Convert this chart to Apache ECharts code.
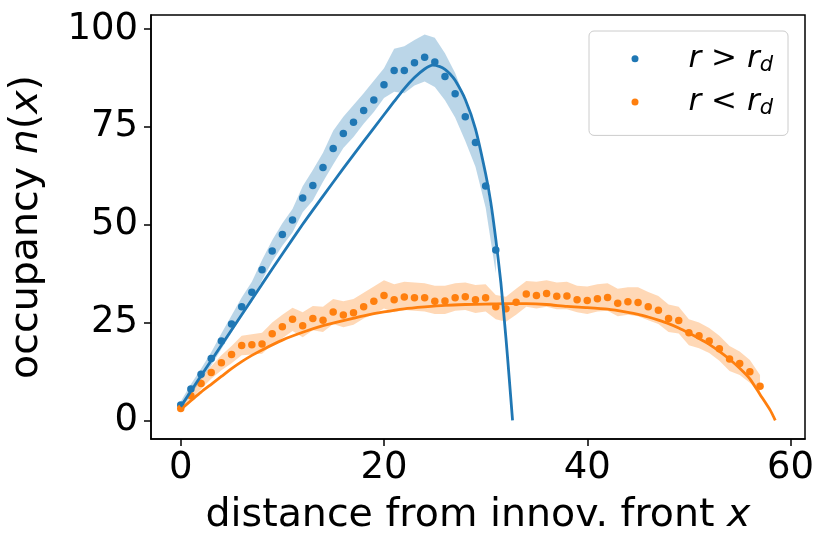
<!DOCTYPE html>
<html><head><meta charset="utf-8">
<script src="https://cdn.jsdelivr.net/npm/echarts@6/dist/echarts.min.js"></script>
<style>html,body{margin:0;padding:0;background:#fff}#c{width:830px;height:551px}</style>
</head><body><div id="c"></div>
<script>
// ---- tick labels ----
const xTicks = [0, 20, 40, 60];
const yTicks = [0, 25, 50, 75, 100];

// ---- r > r_d (blue) : simulation points ----
const xB = [0,1,2,3,4,5,6,7,8,9,10,11,12,13,14,15,16,17,18,19,20,21,22,23,24,25,26,27,28,29,30,31];
const yB = [3.9,8.0,11.8,15.8,20.3,24.6,29.0,32.7,38.5,43.3,47.5,51.2,56.8,60.0,64.6,69.5,73.3,76.2,79.2,81.9,85.8,89.4,89.4,91.4,92.8,91.6,87.9,83.5,77.6,71.0,59.9,43.5];
const hiB = [4.8,9.2,13.2,17.4,22.2,26.8,31.4,35.4,41.0,46.0,50.4,54.0,59.8,64.0,68.4,74.0,77.6,80.6,83.6,86.8,90.0,95.0,95.6,97.2,98.6,97.8,93.8,88.8,82.0,74.0,62.0,45.5];
const loB = [2.8,6.6,10.2,14.0,18.2,22.4,26.6,30.2,35.8,40.6,44.6,48.0,53.2,56.2,61.0,65.4,69.6,72.4,75.8,78.8,82.4,84.0,83.6,85.6,86.6,85.2,81.8,77.4,71.4,64.8,54.4,37.6];
// fitted curve (blue)
const xFitB = [0,2,4,6,8,10,12,14,16,18,20,21,22,23,24,24.8,25.5,26,26.5,27,28,29,30,30.5,31,31.5,32,32.3,32.65];
const yFitB = [3.5,11.4,19.2,27.0,34.8,42.5,50.1,57.3,64.4,71.3,78.1,81.5,84.8,87.6,89.8,90.8,90.4,89.7,88.5,86.9,82.0,74.5,63.0,55.8,46.3,35.2,21.0,11.5,0];

// ---- r < r_d (orange) ----
const xO = [0,1,2,3,4,5,6,7,8,9,10,11,12,13,14,15,16,17,18,19,20,21,22,23,24,25,26,27,28,29,30,31,32,33,34,35,36,37,38,39,40,41,42,43,44,45,46,47,48,49,50,51,52,53,54,55,56,57];
const yO = [3.0,6.3,9.4,12.2,14.7,16.8,19.1,19.3,19.5,22.1,23.9,25.8,24.2,26.0,25.6,27.7,26.9,27.5,29.0,30.4,31.9,30.8,31.5,31.3,31.3,30.4,30.5,31.3,31.6,30.8,31.3,29.0,28.5,30.2,32.3,31.9,32.4,31.7,31.8,30.8,30.6,31.1,31.4,29.9,30.3,30.1,29.0,28.1,26.0,25.5,22.4,21.6,20.3,18.3,15.7,14.5,12.4,8.7];
const hiO = [3.8,7.4,10.8,13.8,16.6,19.0,21.6,22.0,22.4,25.0,27.0,28.8,27.6,29.2,29.0,31.0,30.4,31.0,32.6,34.2,35.8,34.8,35.4,35.2,35.0,34.4,34.4,35.0,35.2,34.6,34.8,32.0,31.6,33.6,35.6,35.4,35.8,35.2,35.4,34.4,34.2,34.8,35.0,33.6,34.0,34.0,32.8,31.8,29.6,29.0,25.8,25.0,23.6,21.6,19.0,17.6,15.4,11.6];
const loO = [2.2,5.2,8.0,10.6,12.8,14.6,16.6,16.8,17.0,19.4,21.0,22.8,21.2,23.0,22.6,24.6,23.8,24.4,26.0,27.2,28.6,27.6,28.2,28.0,27.8,27.2,27.2,28.0,28.2,27.4,27.8,25.8,25.2,27.0,29.0,28.6,29.0,28.4,28.4,27.6,27.2,27.8,28.0,26.6,27.0,26.6,25.6,24.6,22.6,22.2,19.2,18.4,17.2,15.2,12.6,11.6,9.6,7.2];
const xFitO = [0,1,2,3,4,5,6,7,8,10,12,14,16,18,20,22,24,26,28,30,32,34,36,38,40,42,44,45,46,47,48,49,50,51,52,53,54,55,56,57,58,58.5];
const yFitO = [2.8,5.0,7.2,9.2,11.2,13.2,15.0,16.6,18.0,20.5,22.5,24.2,25.5,26.7,27.7,28.5,29.0,29.4,29.6,29.7,29.8,29.8,29.6,29.1,28.8,28.4,27.6,27.1,26.4,25.6,24.7,23.6,22.3,20.9,19.4,17.6,15.6,13.3,10.6,6.6,2.6,0];

const NAME_B = 'r > r_d';
const NAME_O = 'r < r_d';
const BLUE = '#1f77b4', ORANGE = '#ff7f0e';
const FONT = 'DejaVu Sans';

const pairs = (xs, ys) => xs.map((x, i) => [x, ys[i]]);

function band(xs, lo, hi, fill, z) {
  return {
    type: 'custom', silent: true, z: z, clip: true,
    data: [[xs[0], lo[0]]],
    encode: {x: 0, y: 1},
    renderItem: function (params, api) {
      const pts = [];
      for (let i = 0; i < xs.length; i++) pts.push(api.coord([xs[i], hi[i]]));
      for (let i = xs.length - 1; i >= 0; i--) pts.push(api.coord([xs[i], lo[i]]));
      return {type: 'polygon', shape: {points: pts}, style: {fill: fill}};
    }
  };
}

const chart = echarts.init(document.getElementById('c'), null, {renderer: 'canvas'});
chart.setOption({
  animation: false,
  backgroundColor: '#fff',
  grid: {left: 151, right: 25, top: 15, bottom: 112, containLabel: false, outerBoundsMode: 'none',
         show: true, borderColor: '#000', borderWidth: 1.5, backgroundColor: 'transparent'},
  xAxis: {
    type: 'value', min: -2.925, max: 61.425,
    axisLine: {show: true, onZero: false, lineStyle: {color: '#000', width: 1.5}},
    splitLine: {show: false},
    axisTick: {show: true, inside: false, length: 7, lineStyle: {color: '#000', width: 1.5}, customValues: xTicks},
    axisLabel: {customValues: xTicks, fontSize: 37, fontFamily: FONT, color: '#000', margin: 11},
    name: 'distance from innov. front {i|x}',
    nameLocation: 'middle', nameGap: 57,
    nameTextStyle: {fontSize: 39.5, fontFamily: FONT, color: '#000',
      rich: {i: {fontSize: 39.5, fontFamily: FONT, fontStyle: 'italic', color: '#000'}}}
  },
  yAxis: {
    type: 'value', min: -4.78, max: 103.6,
    axisLine: {show: true, onZero: false, lineStyle: {color: '#000', width: 1.5}},
    splitLine: {show: false},
    axisTick: {show: true, inside: false, length: 7, lineStyle: {color: '#000', width: 1.5}, customValues: yTicks},
    axisLabel: {customValues: yTicks, fontSize: 37, fontFamily: FONT, color: '#000', margin: 13},
    name: 'occupancy {i|n}({i|x})',
    nameLocation: 'middle', nameGap: 104,
    nameTextStyle: {fontSize: 39.5, fontFamily: FONT, color: '#000',
      rich: {i: {fontSize: 39.5, fontFamily: FONT, fontStyle: 'italic', color: '#000'}}}
  },
  legend: {
    data: [NAME_B, NAME_O],
    orient: 'vertical', left: 589, top: 31,
    icon: 'circle', itemWidth: 7, itemHeight: 7, itemGap: 10.2,
    padding: [12.2, 15, 16, 42.5],
    borderColor: '#cccccc', borderWidth: 1, borderRadius: 5,
    backgroundColor: 'rgba(255,255,255,0.8)',
    formatter: function (name) {
      return name === NAME_B ? '{sp|}{i|r}{o| > }{i|r}{s|d}' : '{sp|}{i|r}{o| < }{i|r}{s|d}';
    },
    textStyle: {
      color: '#000',
      rich: {
        sp: {width: 45, fontSize: 31, lineHeight: 40},
        i: {fontSize: 31, fontFamily: FONT, fontStyle: 'italic', lineHeight: 40, color: '#000'},
        o: {fontSize: 31, fontFamily: FONT, lineHeight: 40, color: '#000'},
        s: {fontSize: 21, fontFamily: FONT, fontStyle: 'italic', padding: [14, 0, 0, 0], color: '#000'}
      }
    }
  },
  series: [
    band(xB, loB, hiB, 'rgba(31,119,180,0.3)', 1),
    band(xO, loO, hiO, 'rgba(255,127,14,0.3)', 1),
    {name: NAME_B, type: 'scatter', data: pairs(xB, yB), symbolSize: 7.5, itemStyle: {color: BLUE, opacity: 1}, z: 2},
    {name: NAME_O, type: 'scatter', data: pairs(xO, yO), symbolSize: 7.5, itemStyle: {color: ORANGE, opacity: 1}, z: 3},
    {name: 'fitO', type: 'line', data: pairs(xFitO, yFitO), showSymbol: false, smooth: 0.2,
     lineStyle: {color: ORANGE, width: 2.8}, itemStyle: {color: ORANGE}, z: 4},
    {name: 'fitB', type: 'line', data: pairs(xFitB, yFitB), showSymbol: false, smooth: 0.2,
     lineStyle: {color: BLUE, width: 2.8}, itemStyle: {color: BLUE}, z: 5}
  ]
});
</script></body></html>
